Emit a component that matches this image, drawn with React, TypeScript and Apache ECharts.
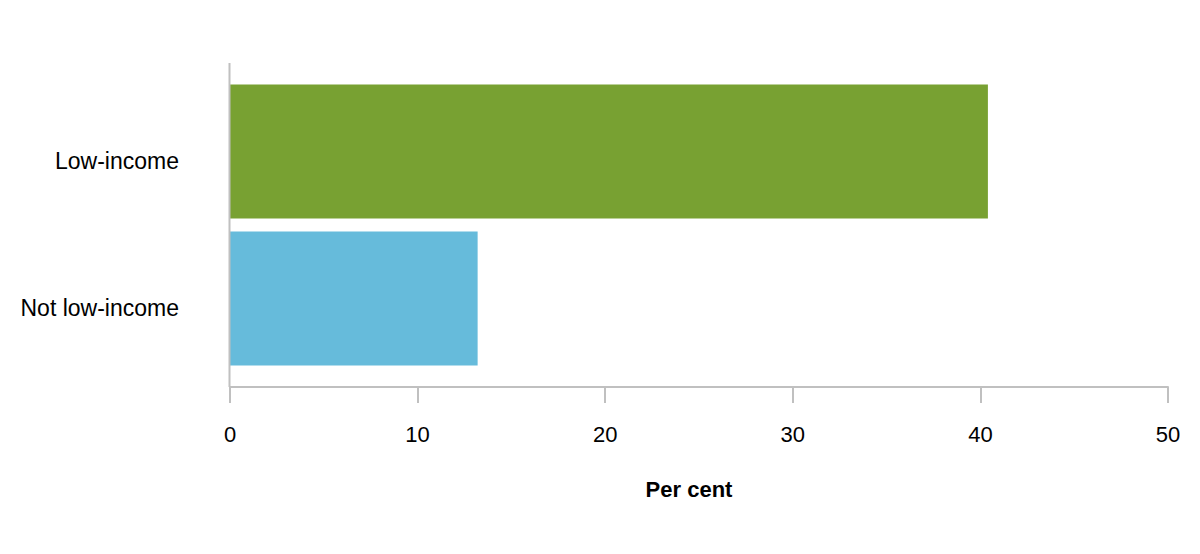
import React, { useRef, useEffect } from 'react';
import * as echarts from 'echarts';

const categories = ['Low-income', 'Not low-income'];
const values = [40.4, 13.2];
const barColors = ['#78a132', '#66bbdb'];
const xTicks = [0, 10, 20, 30, 40, 50];

const FONT = '"Liberation Sans", Arial, sans-serif';
const AXIS_COLOR = '#c0c0c0';

const App: React.FC = () => {
  const chartRef = useRef<HTMLDivElement>(null);

  useEffect(() => {
    document.body.style.margin = '0';
    if (!chartRef.current) return;
    const chart = echarts.init(chartRef.current, undefined, { renderer: 'svg' });

    const option = {
      animation: false,
      grid: { left: 230, right: 32, top: 78, bottom: 182 },
      xAxis: {
        type: 'value',
        min: xTicks[0],
        max: xTicks[xTicks.length - 1],
        interval: 10,
        offset: 15,
        name: 'Per cent',
        nameLocation: 'middle',
        nameGap: 91,
        nameTextStyle: {
          fontFamily: FONT,
          fontSize: 22,
          fontWeight: 'bold',
          color: '#000',
          padding: [0, 20, 0, 0],
        },
        axisLine: { show: true, lineStyle: { color: AXIS_COLOR, width: 2 } },
        axisTick: { show: true, length: 16, lineStyle: { color: AXIS_COLOR, width: 2 } },
        axisLabel: { margin: 36, fontFamily: FONT, fontSize: 22, color: '#000' },
        splitLine: { show: false },
      },
      yAxis: {
        type: 'category',
        inverse: true,
        data: categories,
        axisLine: { show: false },
        axisTick: { show: false },
        axisLabel: {
          margin: 51,
          fontFamily: FONT,
          fontSize: 23,
          color: '#000',
          verticalAlign: 'top',
          lineHeight: 18,
        },
      },
      graphic: [
        {
          type: 'line',
          shape: { x1: 229.5, y1: 63, x2: 229.5, y2: 387 },
          style: { stroke: AXIS_COLOR, lineWidth: 2 },
          z: 10,
        },
      ],
      series: [
        {
          type: 'bar',
          barWidth: '91%',
          data: values.map((v, i) => ({ value: v, itemStyle: { color: barColors[i] } })),
        },
      ],
    };
    chart.setOption(option);

    return () => {
      chart.dispose();
    };
  }, []);

  return <div ref={chartRef} style={{ width: 1200, height: 554 }} />;
};

export default App;
